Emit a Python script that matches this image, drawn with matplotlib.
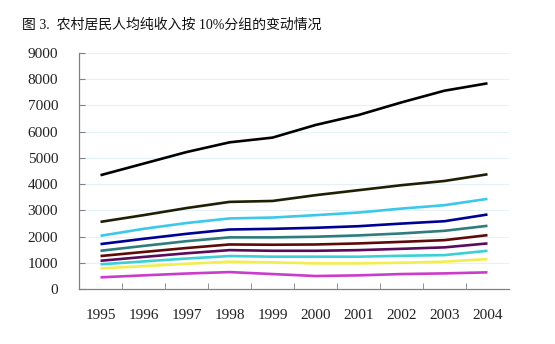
import matplotlib
matplotlib.use("Agg")
import matplotlib.pyplot as plt

# 农村居民人均纯收入按10%分组 (元)
years = ["1995", "1996", "1997", "1998", "1999", "2000", "2001", "2002", "2003", "2004"]

g10 = [4340, 4780, 5220, 5590, 5770, 6250, 6630, 7110, 7555, 7835]
g9 = [2565, 2820, 3090, 3325, 3360, 3580, 3770, 3960, 4120, 4375]
g8 = [2035, 2300, 2520, 2695, 2730, 2820, 2920, 3070, 3200, 3440]
g7 = [1720, 1920, 2110, 2275, 2300, 2340, 2400, 2500, 2590, 2845]
g6 = [1465, 1650, 1830, 1975, 1975, 2000, 2050, 2125, 2225, 2415]
g5 = [1265, 1420, 1570, 1705, 1695, 1705, 1745, 1805, 1870, 2060]
g4 = [1085, 1230, 1370, 1490, 1465, 1465, 1490, 1540, 1595, 1745]
g3 = [950, 1060, 1170, 1265, 1240, 1240, 1240, 1275, 1300, 1465]
g2 = [795, 880, 970, 1050, 1025, 985, 985, 1010, 1050, 1150]
g1 = [455, 530, 600, 655, 580, 505, 530, 580, 605, 645]

series = [g10, g9, g8, g7, g6, g5, g4, g3, g2, g1]
colors = ["#000000", "#1f1f05", "#3cc8ea", "#000094", "#2e7c7c",
          "#5e0a0a", "#5c0a5c", "#3ccfd6", "#f2ee50", "#cc3ccc"]

serif_cjk = ["Liberation Serif", "Noto Sans CJK SC"]

fig = plt.figure(figsize=(5.55, 3.44), dpi=100)
ax = fig.add_axes([79 / 555, 1 - 289.3 / 344, 430 / 555, (289.3 - 52.7) / 344])

x = list(range(len(years)))
for vals, c in zip(series, colors):
    ax.plot(x, vals, color=c, lw=1.9, solid_capstyle="butt", zorder=3)

ax.set_xlim(-0.5, len(years) - 0.5)
ax.set_ylim(0, 9000)
ax.set_yticks(range(0, 9001, 1000))
ax.set_xticks(x)
ax.set_xticklabels(years)
ax.set_xticks([i + 0.5 for i in range(len(years) - 1)], minor=True)

ax.grid(axis="y", color="#e4f1f7", lw=0.8, zorder=0)
for s in ["top", "right"]:
    ax.spines[s].set_visible(False)
for s in ["left", "bottom"]:
    ax.spines[s].set_color("#808080")
    ax.spines[s].set_linewidth(0.9)

ax.tick_params(axis="y", direction="in", length=4, color="#808080", pad=15, labelsize=11)
ax.tick_params(axis="x", which="major", length=0, pad=14, labelsize=11)
ax.tick_params(axis="x", which="minor", direction="in", length=4, color="#808080")
for lab in ax.get_xticklabels() + ax.get_yticklabels():
    lab.set_family("Liberation Serif")
    lab.set_color("#222222")

fig.text(22 / 555, 1 - 25 / 344, "图 3.  农村居民人均纯收入按 10%分组的变动情况",
         family=serif_cjk, fontsize=10, va="center", ha="left", color="#111111")

fig.savefig("out.png", dpi=100, facecolor="white")
